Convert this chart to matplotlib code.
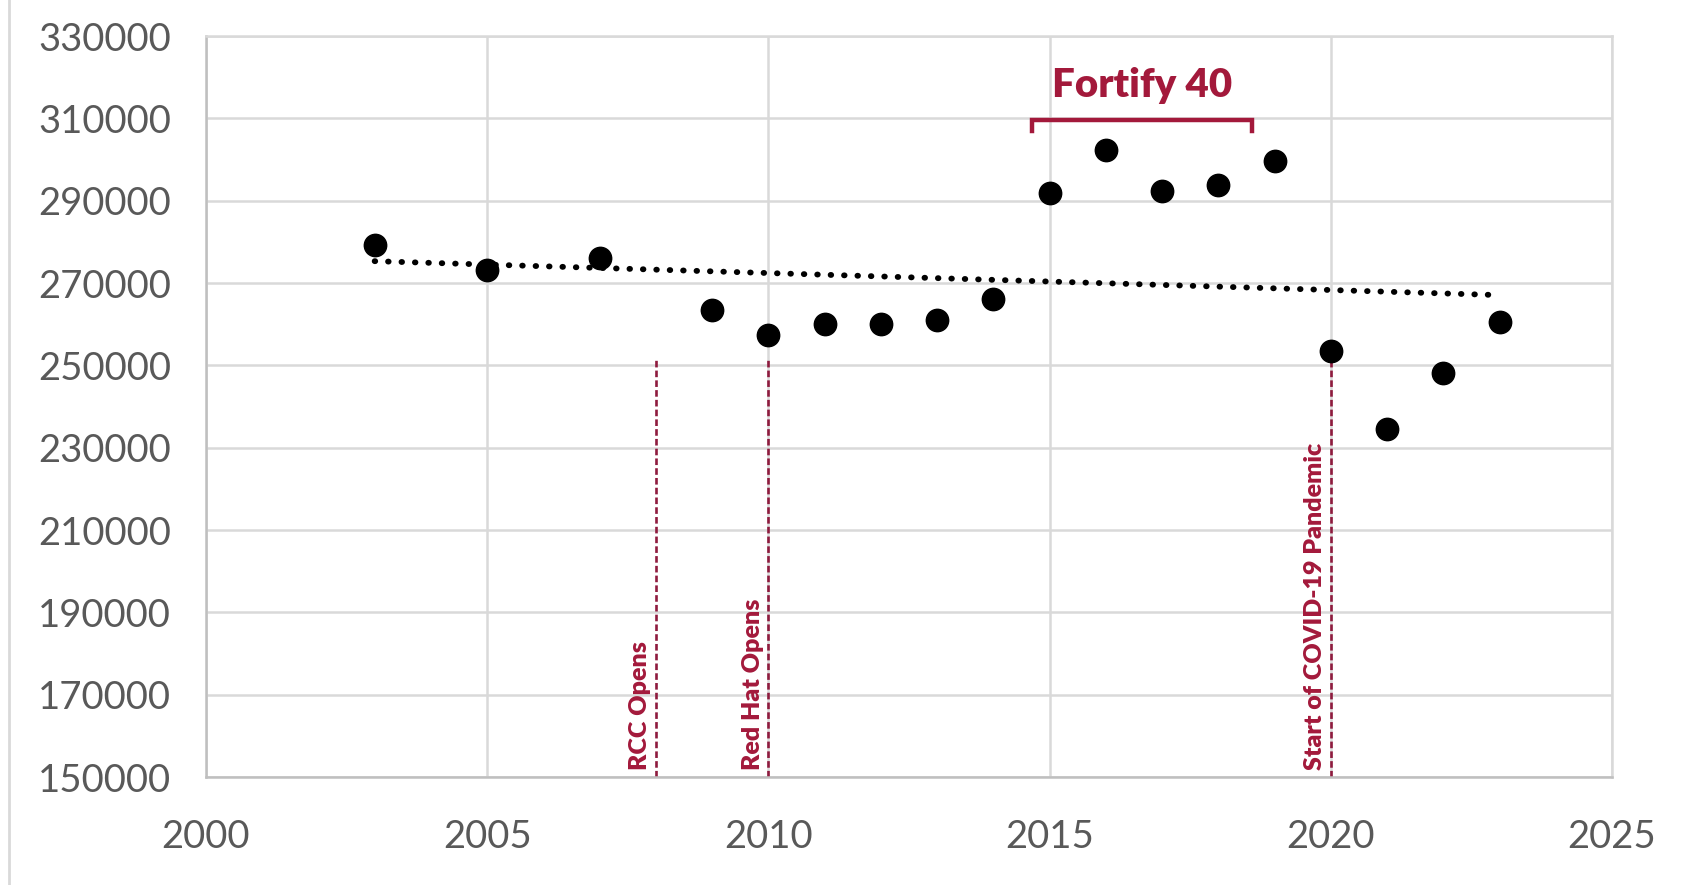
import matplotlib.pyplot as plt
import numpy as np
from matplotlib.lines import Line2D

plt.rcParams['font.family'] = ['Lato', 'DejaVu Sans']

# Enrollment-style yearly values
years = [2003, 2005, 2007, 2009, 2010, 2011, 2012, 2013, 2014, 2015,
         2016, 2017, 2018, 2019, 2020, 2021, 2022, 2023]
values = [279200, 273200, 276000, 263400, 257400, 260000, 260000, 261000, 266000, 291800,
          302400, 292400, 293700, 299700, 253400, 234500, 248100, 260500]

# event markers
event_years = [2008, 2010, 2020]
event_labels = ["RCC Opens", "Red Hat Opens", "Start of COVID-19 Pandemic"]
event_top = 251500

fortify_span = [2014.68, 2018.6]
fortify_label = "Fortify 40"

x_ticks = [2000, 2005, 2010, 2015, 2020, 2025]
y_ticks = list(range(150000, 330001, 20000))

CRIMSON = "#A3193B"
LINE_RED = "#8E1B3E"
GRID = "#D9D9D9"

fig = plt.figure(figsize=(16.99, 8.85), dpi=100)
ax = fig.add_axes([0.1212, 0.1220, 0.8276, 0.8373])

# thin border on the far left of the image
fig.add_artist(Line2D([0.0053, 0.0053], [0, 1], transform=fig.transFigure,
                      color=GRID, linewidth=2))

ax.set_xlim(2000, 2025)
ax.set_ylim(150000, 330000)
ax.set_xticks(x_ticks)
ax.set_yticks(y_ticks)
ax.grid(True, color=GRID, linewidth=1.8, zorder=0)
ax.set_axisbelow(True)
for side in ["top", "right"]:
    ax.spines[side].set_color(GRID)
    ax.spines[side].set_linewidth(1.8)
for side in ["left", "bottom"]:
    ax.spines[side].set_color("#BFBFBF")
    ax.spines[side].set_linewidth(1.8)
ax.tick_params(length=0, labelsize=27.5, labelcolor="#595959")
ax.tick_params(axis='y', pad=25)
ax.tick_params(axis='x', pad=30)

# linear trendline
coef = np.polyfit(years, values, 1)
tx = np.array([years[0], years[-1]])
ax.plot(tx, np.polyval(coef, tx), color="black", linestyle=(0, (0.1, 2.2)),
        linewidth=4.2, dash_capstyle='round', zorder=3)

ax.scatter(years, values, s=260, color="black", zorder=4)

# event lines
for ex, lab in zip(event_years, event_labels):
    ax.plot([ex, ex], [150000, event_top], color=LINE_RED, linewidth=1.9,
            linestyle=(0, (2.5, 1.2)), zorder=2)
    ax.text(ex - 0.08, 151800, lab, rotation=90, ha='right', va='bottom',
            fontsize=18, fontweight='heavy', color=CRIMSON, zorder=3)

# Fortify 40 bracket
b_y, b_tick = 309700, 307000
ax.plot([fortify_span[0], fortify_span[0], fortify_span[1], fortify_span[1]],
        [b_tick, b_y, b_y, b_tick], color=CRIMSON, linewidth=3.2,
        solid_joinstyle='miter', zorder=3)
ax.text(sum(fortify_span) / 2, 318000, fortify_label, ha='center', va='center',
        fontsize=29, fontweight='heavy', color=CRIMSON)

fig.savefig("out.png", dpi=100)
